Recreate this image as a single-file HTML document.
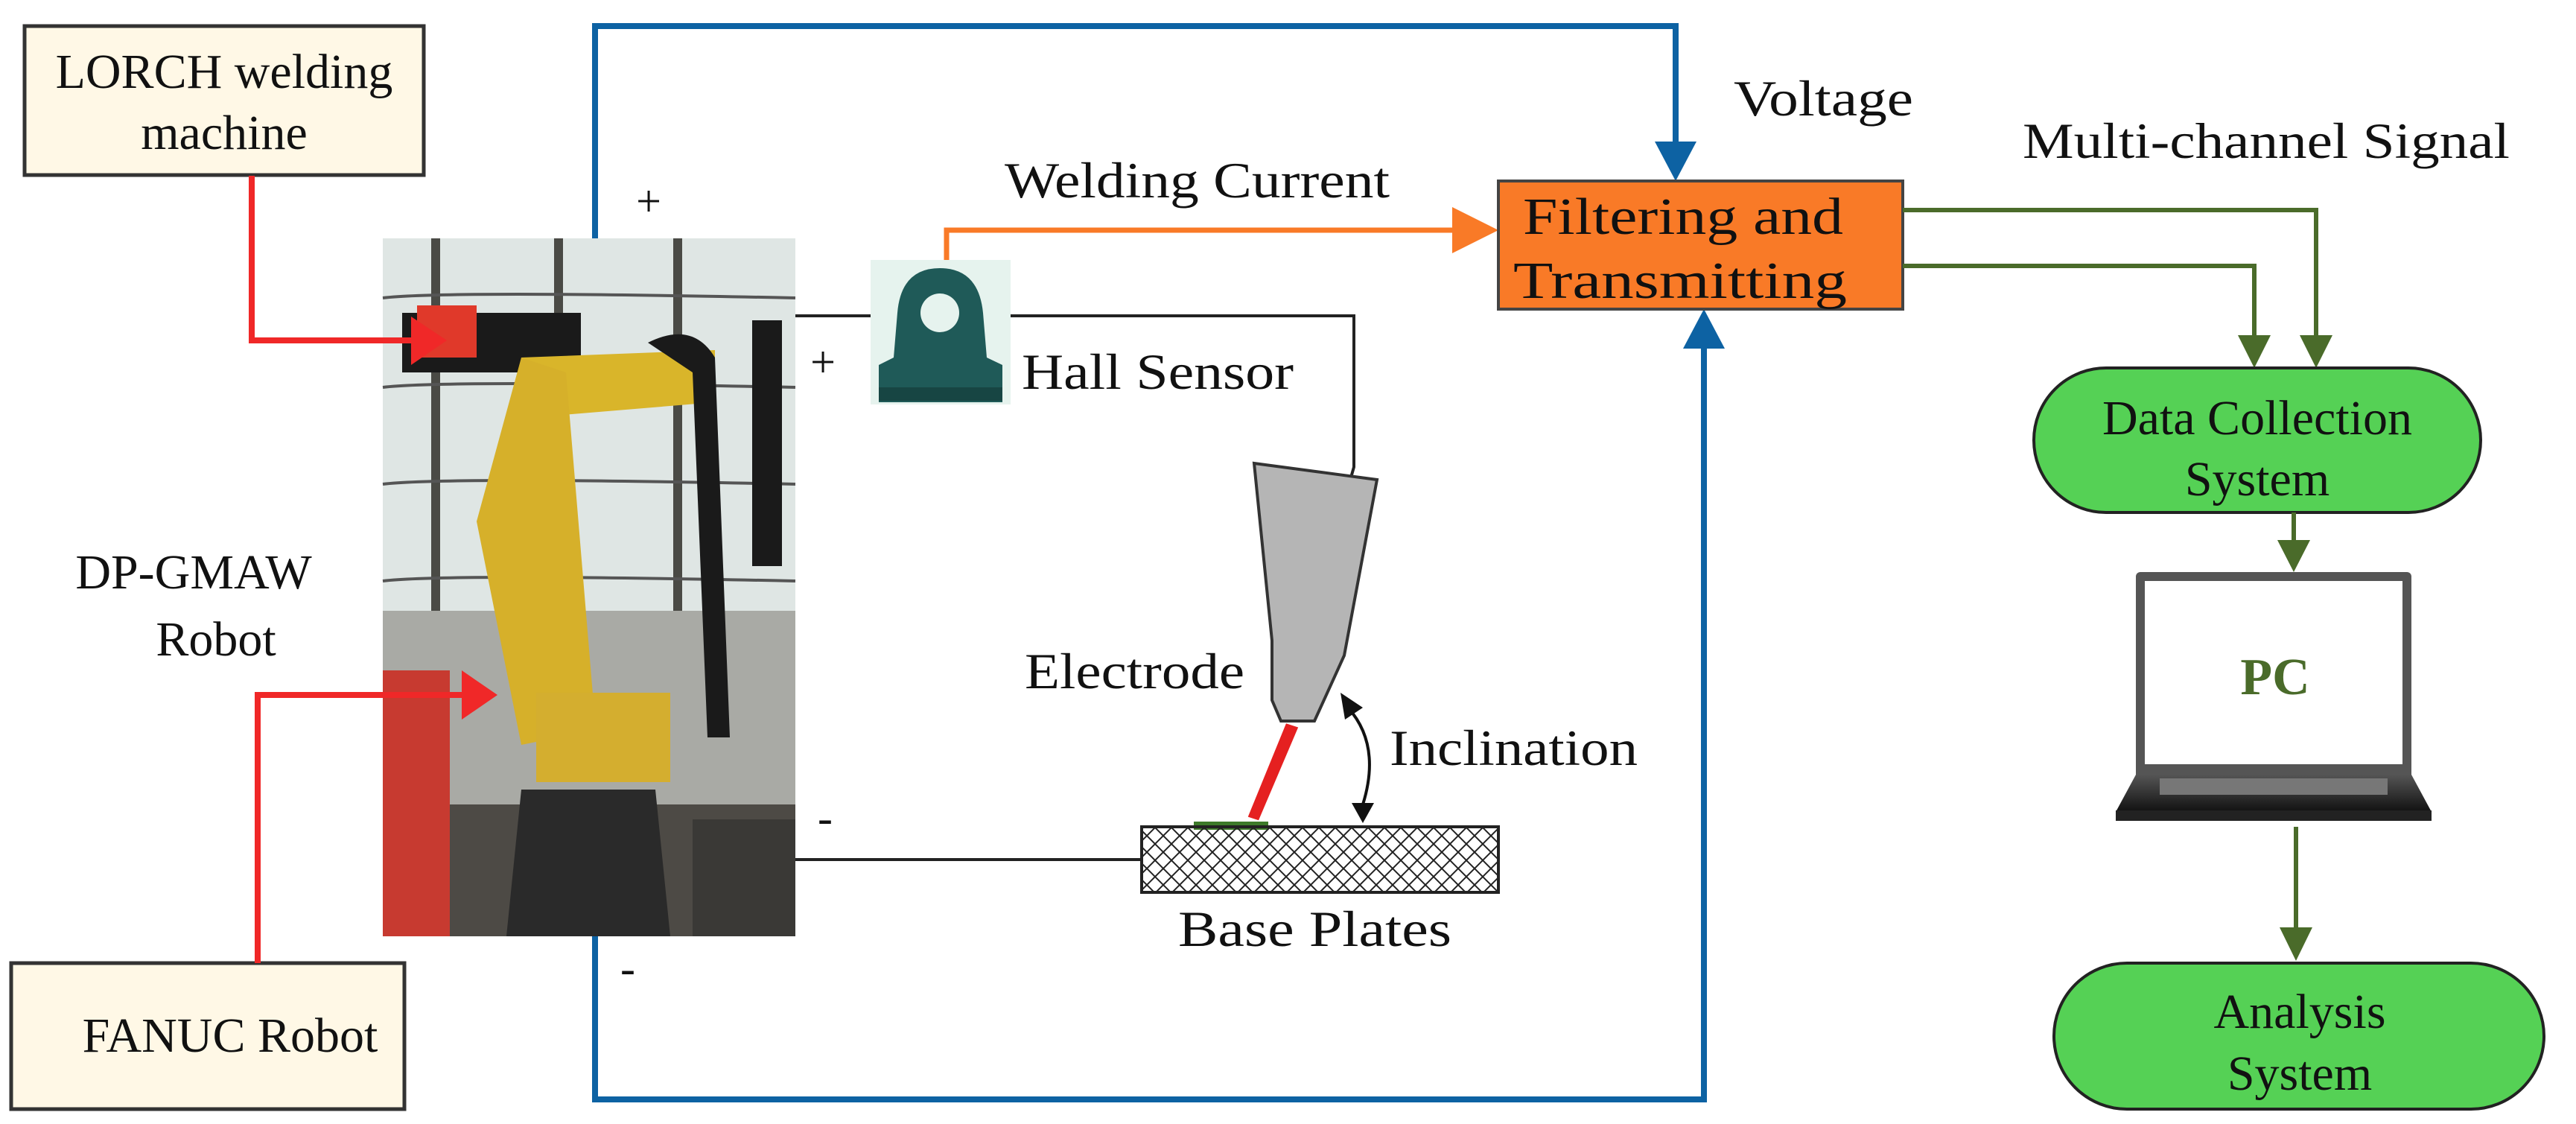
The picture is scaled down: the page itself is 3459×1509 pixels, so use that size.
<!DOCTYPE html>
<html><head><meta charset="utf-8"><style>
html,body{margin:0;padding:0;background:#fff;}
svg{display:block;}
text{font-family:"Liberation Serif",serif;fill:#111;}
</style></head><body>
<svg width="3459" height="1509" viewBox="0 0 3459 1509" xmlns="http://www.w3.org/2000/svg">
<defs>
<pattern id="hatch" width="22" height="22" patternUnits="userSpaceOnUse">
<path d="M0 0L22 22M22 0L0 22" stroke="#222" stroke-width="2"/>
</pattern>
<linearGradient id="lap" x1="0" y1="0" x2="0" y2="1"><stop offset="0" stop-color="#555"/><stop offset="1" stop-color="#111"/></linearGradient>
</defs>

<polyline points="799,320 799,35 2250,35 2250,200" fill="none" stroke="#0d62a3" stroke-width="8"/>
<polygon points="2222,190 2278,190 2250,243" fill="#0d62a3"/>
<polyline points="799,1257 799,1476 2288,1476 2288,460" fill="none" stroke="#0d62a3" stroke-width="8"/>
<polygon points="2260,468 2316,468 2288,415" fill="#0d62a3"/>

<rect x="33" y="35" width="536" height="200" fill="#fff8e6" stroke="#333" stroke-width="5"/>
<text x="301" y="118" font-size="66" text-anchor="middle">LORCH welding</text>
<text x="301" y="200" font-size="66" text-anchor="middle">machine</text>
<rect x="15" y="1293" width="528" height="196" fill="#fff8e6" stroke="#333" stroke-width="5"/>
<text x="309" y="1412" font-size="66" text-anchor="middle">FANUC Robot</text>

<text x="260" y="790" font-size="66" text-anchor="middle">DP-GMAW</text>
<text x="290" y="880" font-size="66" text-anchor="middle">Robot</text>

<g>
<rect x="514" y="320" width="554" height="937" fill="#c9cfcd"/>
<rect x="514" y="320" width="554" height="500" fill="#dfe6e4"/>
<rect x="514" y="820" width="554" height="437" fill="#a9aaa5"/>
<g stroke="#4a4a45" stroke-width="12">
<line x1="585" y1="320" x2="585" y2="820"/><line x1="750" y1="320" x2="750" y2="820"/><line x1="910" y1="320" x2="910" y2="820"/>
</g>
<g stroke="#555" stroke-width="4" fill="none">
<path d="M514 400 Q 600 390 1068 400"/><path d="M514 520 Q600 510 1068 520"/><path d="M514 650 Q600 640 1068 650"/><path d="M514 780 Q600 770 1068 780"/>
</g>
<rect x="514" y="1080" width="554" height="177" fill="#4d4a45"/>
<rect x="514" y="900" width="90" height="357" fill="#c73a30"/>
<rect x="540" y="420" width="240" height="80" fill="#1a1a1a"/>
<rect x="560" y="410" width="80" height="70" fill="#e0392a"/>
<path d="M700 480 L 960 470 L 960 540 L 720 560 Z" fill="#d9b52a"/>
<path d="M700 480 L 760 500 L 800 980 L 700 1000 L 640 700 Z" fill="#d6b02a"/>
<rect x="720" y="930" width="180" height="120" fill="#d4ae2f"/>
<path d="M700 1060 L 880 1060 L 900 1257 L 680 1257 Z" fill="#2a2a2a"/>
<path d="M870 460 Q 930 430 960 480 L 980 990 L 950 990 L 930 500 Z" fill="#1a1a1a"/>
<rect x="1010" y="430" width="40" height="330" fill="#1a1a1a"/>
<rect x="930" y="1100" width="138" height="157" fill="#3a3936"/>
</g>

<polyline points="338,236 338,457 560,457" fill="none" stroke="#f02828" stroke-width="8"/>
<polygon points="552,425 552,490 600,457" fill="#f02828"/>
<polyline points="346,1293 346,933 630,933" fill="none" stroke="#f02828" stroke-width="8"/>
<polygon points="620,900 620,966 668,933" fill="#f02828"/>

<text x="871" y="290" font-size="60" text-anchor="middle">+</text>
<text x="1105" y="506" font-size="60" text-anchor="middle">+</text>
<text x="1108" y="1118" font-size="60" text-anchor="middle">-</text>
<text x="843" y="1320" font-size="60" text-anchor="middle">-</text>

<polyline points="1068,424 1175,424" fill="none" stroke="#222" stroke-width="4"/>
<polyline points="1355,424 1818,424 1818,627 1800,690" fill="none" stroke="#222" stroke-width="4"/>
<line x1="1068" y1="1154" x2="1533" y2="1154" stroke="#222" stroke-width="4"/>

<rect x="1169" y="349" width="188" height="194" fill="#e6f3ee"/>
<path d="M1180 540 L1180 490 L1200 480 L1205 420 Q1210 360 1262 360 Q1314 360 1320 420 L1325 480 L1346 490 L1346 540 Z" fill="#1f5a58"/>
<circle cx="1262" cy="420" r="26" fill="#e6f3ee"/>
<rect x="1180" y="520" width="166" height="18" fill="#174543"/>
<text x="1372" y="522" font-size="68" textLength="365" lengthAdjust="spacingAndGlyphs">Hall Sensor</text>

<polyline points="1271,349 1271,309 1960,309" fill="none" stroke="#f97a27" stroke-width="7"/>
<polygon points="1950,278 1950,340 2012,309" fill="#f97a27"/>
<text x="1349" y="265" font-size="68" textLength="517" lengthAdjust="spacingAndGlyphs">Welding Current</text>

<rect x="2012" y="243" width="543" height="172" fill="#f97a27" stroke="#444" stroke-width="4"/>
<text x="2045" y="314" font-size="70" textLength="430" lengthAdjust="spacingAndGlyphs">Filtering and</text>
<text x="2032" y="400" font-size="70" textLength="448" lengthAdjust="spacingAndGlyphs">Transmitting</text>

<text x="2328" y="155" font-size="68" textLength="241" lengthAdjust="spacingAndGlyphs">Voltage</text>
<text x="2716" y="212" font-size="68" textLength="654" lengthAdjust="spacingAndGlyphs">Multi-channel Signal</text>

<polygon points="1684,622 1849,644 1805,880 1765,968 1720,968 1708,940 1708,860" fill="#b5b5b5" stroke="#333" stroke-width="4"/>
<polygon points="1705,970 1722,970 1710,1105 1695,1105" fill="#e52020" transform="rotate(18 1712 1040)"/>
<rect x="1603" y="1103" width="100" height="11" fill="#3d7a2a"/>
<text x="1376" y="924" font-size="68" textLength="295" lengthAdjust="spacingAndGlyphs">Electrode</text>
<rect x="1533" y="1110" width="479" height="88" fill="url(#hatch)" stroke="#222" stroke-width="4"/>
<text x="1582" y="1270" font-size="68" textLength="367" lengthAdjust="spacingAndGlyphs">Base Plates</text>
<path d="M1810 950 Q1855 1000 1830 1080" fill="none" stroke="#111" stroke-width="4"/>
<polygon points="1800,930 1830,950 1806,966" fill="#111"/>
<polygon points="1815,1078 1845,1078 1830,1105" fill="#111"/>
<text x="1866" y="1027" font-size="68" textLength="333" lengthAdjust="spacingAndGlyphs">Inclination</text>

<polyline points="2555,282 3110,282 3110,455" fill="none" stroke="#4a6b2a" stroke-width="6"/>
<polygon points="3088,450 3132,450 3110,494" fill="#4a6b2a"/>
<polyline points="2555,357 3027,357 3027,455" fill="none" stroke="#4a6b2a" stroke-width="6"/>
<polygon points="3005,450 3049,450 3027,494" fill="#4a6b2a"/>

<rect x="2731" y="494" width="600" height="194" rx="97" fill="#55d155" stroke="#222" stroke-width="4"/>
<text x="3031" y="583" font-size="66" text-anchor="middle">Data Collection</text>
<text x="3031" y="665" font-size="66" text-anchor="middle">System</text>

<line x1="3080" y1="688" x2="3080" y2="730" stroke="#4a6b2a" stroke-width="6"/>
<polygon points="3058,725 3102,725 3080,768" fill="#4a6b2a"/>

<rect x="2868" y="768" width="370" height="291" fill="#555" rx="6"/>
<rect x="2880" y="780" width="346" height="246" fill="#fff"/>
<polygon points="2868,1040 3238,1040 3265,1090 2841,1090" fill="url(#lap)"/>
<rect x="2900" y="1045" width="306" height="22" fill="#777"/>
<rect x="2841" y="1088" width="424" height="14" fill="#222"/>
<text x="3055" y="932" font-size="70" font-weight="bold" text-anchor="middle" style="fill:#4a6b2a">PC</text>

<line x1="3083" y1="1110" x2="3083" y2="1250" stroke="#4a6b2a" stroke-width="6"/>
<polygon points="3061,1245 3105,1245 3083,1290" fill="#4a6b2a"/>

<rect x="2758" y="1293" width="658" height="196" rx="98" fill="#55d155" stroke="#222" stroke-width="4"/>
<text x="3088" y="1380" font-size="66" text-anchor="middle">Analysis</text>
<text x="3088" y="1463" font-size="66" text-anchor="middle">System</text>
</svg>
</body></html>
